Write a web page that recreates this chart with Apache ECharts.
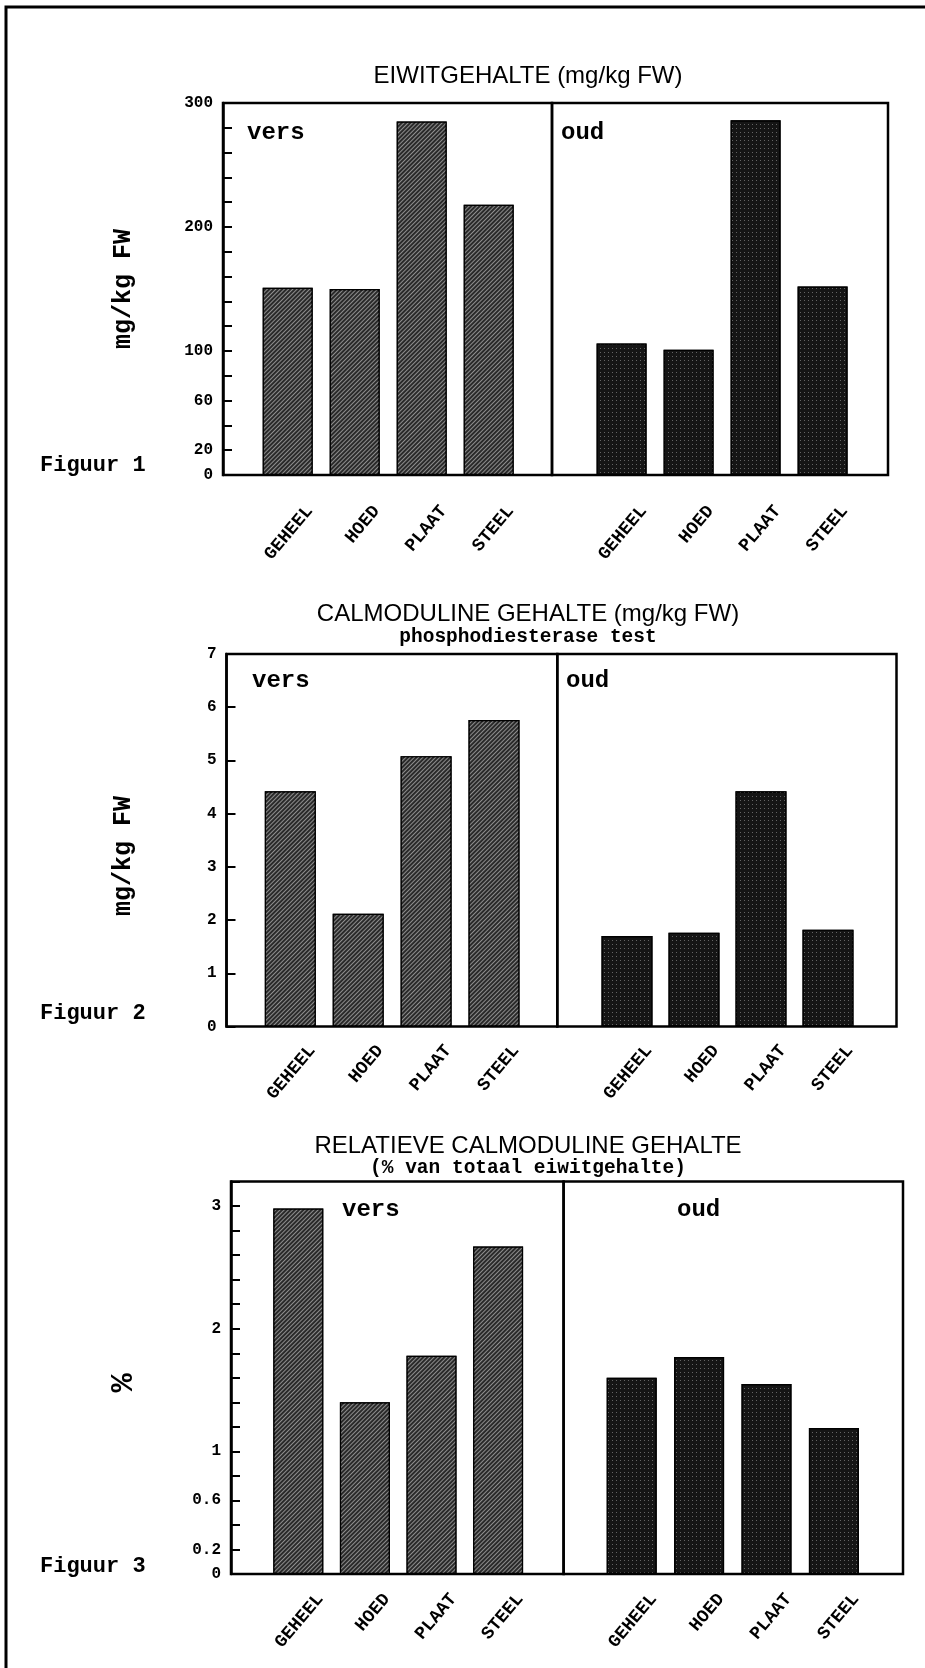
<!DOCTYPE html>
<html>
<head>
<meta charset="utf-8">
<script src="https://cdn.jsdelivr.net/npm/echarts@6/dist/echarts.min.js"></script>
<style>
  html, body { margin: 0; padding: 0; background: #fff; }
  #chart { width: 925px; height: 1668px; }
</style>
</head>
<body>
<div id="chart"></div>
<script>
// ---- data -------------------------------------------------------------
const categories = ['GEHEEL', 'HOED', 'PLAAT', 'STEEL'];

// Figuur 1: eiwitgehalte (mg/kg FW)
const eiwitVers = [151, 150, 285, 218];
const eiwitOud  = [106, 101, 286, 152];
const eiwitTickLabels = [0, 20, 60, 100, 200, 300];

// Figuur 2: calmoduline gehalte (mg/kg FW), phosphodiesterase test
const calmVers = [4.42, 2.12, 5.08, 5.76];
const calmOud  = [1.70, 1.76, 4.42, 1.82];
const calmTickLabels = [0, 1, 2, 3, 4, 5, 6, 7];

// Figuur 3: relatieve calmoduline gehalte (% van totaal eiwitgehalte)
const relVers = [2.98, 1.40, 1.78, 2.67];
const relOud  = [1.60, 1.77, 1.55, 1.19];
const relTickLabels = [0, 0.2, 0.6, 1, 2, 3];

const panels = [
  { title: 'EIWITGEHALTE (mg/kg FW)', subtitle: null, unit: 'mg/kg FW', figure: 'Figuur 1',
    vers: eiwitVers, oud: eiwitOud, max: 300, interval: 20, tickLabels: eiwitTickLabels },
  { title: 'CALMODULINE GEHALTE (mg/kg FW)', subtitle: 'phosphodiesterase test', unit: 'mg/kg FW', figure: 'Figuur 2',
    vers: calmVers, oud: calmOud, max: 7, interval: 1, tickLabels: calmTickLabels },
  { title: 'RELATIEVE CALMODULINE GEHALTE', subtitle: '(% van totaal eiwitgehalte)', unit: '%', figure: 'Figuur 3',
    vers: relVers, oud: relOud, max: 3.2, interval: 0.2, tickLabels: relTickLabels }
];

// ---- layout (pixels) --------------------------------------------------
const layout = [
  { l: 223, t: 103, r: 888, b: 475, d: 552, versC0: 287.7, versStep: 67, oudC0: 621.6, oudStep: 67, barW: 50,
    labelGap: 33, titleY: 76, subY: null, versX: 247, oudX: 561, tagY: 133, unitY: 289, figY: 465, unitSize: 25 },
  { l: 226.5, t: 654, r: 896.5, b: 1026.5, d: 557.3, versC0: 290.3, versStep: 67.9, oudC0: 627, oudStep: 67, barW: 51,
    labelGap: 21, titleY: 614, subY: 637, versX: 252, oudX: 566, tagY: 681, unitY: 856, figY: 1013, unitSize: 25 },
  { l: 231, t: 1181.6, r: 903, b: 1574, d: 563.6, versC0: 298.3, versStep: 66.6, oudC0: 631.7, oudStep: 67.4, barW: 50,
    labelGap: 22, titleY: 1146, subY: 1168, versX: 342, oudX: 677, tagY: 1210, unitY: 1383, figY: 1566, unitSize: 32 }
];
const labelShift = 22;
const titleX = 528;

const MONO = '"Liberation Mono", "DejaVu Sans Mono", monospace';
const PLAIN = '"Liberation Sans", Arial, sans-serif';

const versStyle = {
  color: '#2a2a2a', borderColor: '#000', borderWidth: 1.2,
  decal: { symbol: 'rect', symbolSize: 1, color: 'rgba(175,175,175,0.75)',
           dashArrayX: [1, 0], dashArrayY: [1, 2], rotation: -Math.PI / 4 }
};
const oudStyle = {
  color: '#151515', borderColor: '#000', borderWidth: 1.2,
  decal: { symbol: 'rect', symbolSize: 1, color: 'rgba(120,120,120,0.8)',
           dashArrayX: [[1, 3]], dashArrayY: [1, 3], rotation: 0 }
};

// ---- option building --------------------------------------------------
const grid = [], xAxis = [], yAxis = [], series = [], graphic = [];

function addGrid(g, xa, ya) {
  grid.push(Object.assign({ containLabel: false }, g));
  const i = grid.length - 1;
  xAxis.push(Object.assign({ gridIndex: i }, xa));
  yAxis.push(Object.assign({ gridIndex: i }, ya));
  return i;
}

const hiddenValue = { type: 'value', show: false, min: 0, max: 1 };

panels.forEach((p, k) => {
  const L = layout[k];
  const h = L.b - L.t;
  const yHidden = { type: 'value', show: false, min: 0, max: p.max, interval: p.interval };

  // framed halves: "vers" (with the value axis) and "oud"
  addGrid(
    { left: L.l, top: L.t, width: L.d - L.l, height: h, show: true, borderColor: '#000', borderWidth: 2.5, backgroundColor: 'transparent' },
    hiddenValue,
    { type: 'value', min: 0, max: p.max, interval: p.interval,
      axisLine: { show: true, lineStyle: { color: '#000', width: 2.5 } },
      axisTick: { show: true, inside: true, length: 9, lineStyle: { color: '#000', width: 2 } },
      splitLine: { show: false },
      axisLabel: {
        margin: 10, color: '#000', fontFamily: MONO, fontWeight: 'bold', fontSize: 16,
        formatter: v => p.tickLabels.some(t => Math.abs(t - v) < 1e-6) ? String(+v.toFixed(2)) : ''
      } }
  );
  addGrid(
    { left: L.d, top: L.t, width: L.r - L.d, height: h, show: true, borderColor: '#000', borderWidth: 2.5, backgroundColor: 'transparent' },
    hiddenValue, hiddenValue
  );

  // bars of each half
  [['vers', L.versC0, L.versStep, versStyle], ['oud', L.oudC0, L.oudStep, oudStyle]].forEach(([key, c0, step, style]) => {
    const gi = addGrid(
      { left: c0 - step / 2, top: L.t, width: step * 4, height: h },
      { type: 'category', data: categories, axisLine: { show: false }, axisTick: { show: false }, axisLabel: { show: false } },
      yHidden
    );
    series.push({
      type: 'bar', name: key, xAxisIndex: gi, yAxisIndex: gi, data: p[key],
      barWidth: L.barW, itemStyle: style, silent: true
    });
    // category names, set slightly to the right of the bar centres
    addGrid(
      { left: c0 - step / 2 + labelShift, top: L.t, width: step * 4, height: h },
      { type: 'category', data: categories, axisLine: { show: false }, axisTick: { show: false },
        axisLabel: { show: true, interval: 0, rotate: 50, margin: L.labelGap, color: '#000',
                     fontFamily: MONO, fontWeight: 'bold', fontSize: 18 } },
      { type: 'value', show: false }
    );
  });

  // titles and annotations
  graphic.push({ type: 'text', x: titleX, y: L.titleY, silent: true,
    style: { text: p.title, font: '24px ' + PLAIN, fill: '#000', align: 'center', verticalAlign: 'middle' } });
  if (p.subtitle) {
    graphic.push({ type: 'text', x: titleX, y: L.subY, silent: true,
      style: { text: p.subtitle, font: 'bold 19.5px ' + MONO, fill: '#000', align: 'center', verticalAlign: 'middle' } });
  }
  graphic.push({ type: 'text', x: L.versX, y: L.tagY, silent: true,
    style: { text: 'vers', font: 'bold 24px ' + MONO, fill: '#000', align: 'left', verticalAlign: 'middle' } });
  graphic.push({ type: 'text', x: L.oudX, y: L.tagY, silent: true,
    style: { text: 'oud', font: 'bold 24px ' + MONO, fill: '#000', align: 'left', verticalAlign: 'middle' } });
  graphic.push({ type: 'text', x: 124, y: L.unitY, rotation: Math.PI / 2, silent: true,
    style: { text: p.unit, font: 'bold ' + L.unitSize + 'px ' + MONO, fill: '#000', align: 'center', verticalAlign: 'middle' } });
  graphic.push({ type: 'text', x: 40, y: L.figY, silent: true,
    style: { text: p.figure, font: 'bold 22px ' + MONO, fill: '#000', align: 'left', verticalAlign: 'middle' } });
});

// page frame
graphic.push({ type: 'polyline', silent: true,
  shape: { points: [[6, 1668], [6, 7], [925, 7]] },
  style: { stroke: '#000', lineWidth: 3, fill: null } });

const chart = echarts.init(document.getElementById('chart'), null, { renderer: 'canvas' });
chart.setOption({
  animation: false,
  backgroundColor: '#fff',
  grid, xAxis, yAxis, series, graphic
});
</script>
</body>
</html>
